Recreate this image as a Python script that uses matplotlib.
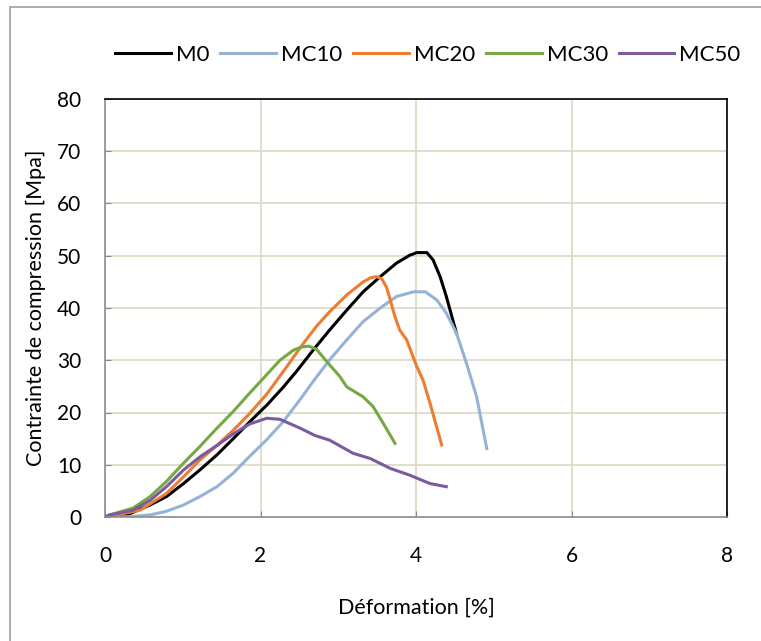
import matplotlib.pyplot as plt
from matplotlib.patches import Rectangle

plt.rcParams["font.family"] = ["Lato", "DejaVu Sans"]

# strain [%] / stress [MPa]
m0_x = [0, 0.15, 0.28, 0.58, 0.79, 1.01, 1.22, 1.44, 1.65, 1.86, 2.08, 2.29, 2.47, 2.68, 2.89,
        3.11, 3.32, 3.54, 3.75, 3.92, 4.01, 4.14, 4.22, 4.31, 4.39, 4.52]
m0_y = [0, 0.1, 0.4, 2.3, 3.9, 6.4, 9.0, 11.9, 15.0, 18.2, 21.4, 24.8, 28.0, 32.0, 35.8,
        39.6, 43.1, 46.0, 48.6, 50.1, 50.6, 50.6, 49.2, 46.0, 42.2, 35.2]

mc10_x = [0, 0.3, 0.58, 0.79, 1.01, 1.22, 1.44, 1.65, 1.86, 2.08, 2.29, 2.51, 2.68, 2.89, 3.11,
          3.32, 3.54, 3.75, 3.97, 4.12, 4.27, 4.39, 4.52, 4.65, 4.78, 4.91]
mc10_y = [0, 0.05, 0.4, 1.1, 2.3, 3.9, 5.8, 8.4, 11.6, 14.8, 18.2, 22.5, 26.0, 30.1, 33.9,
          37.4, 40.0, 42.2, 43.1, 43.1, 41.5, 39.0, 35.2, 29.4, 23.0, 13.1]

mc20_x = [0, 0.15, 0.45, 0.79, 1.01, 1.22, 1.44, 1.65, 1.86, 2.08, 2.3, 2.55, 2.72, 2.89, 3.11,
          3.32, 3.42, 3.49, 3.56, 3.62, 3.67, 3.73, 3.79, 3.88, 4.01, 4.09, 4.18, 4.33]
mc20_y = [0, 0.4, 1.3, 4.5, 7.7, 10.9, 13.7, 16.6, 19.8, 23.5, 28.0, 33.2, 36.5, 39.3, 42.5,
          45.0, 45.8, 46.0, 45.6, 44.0, 41.5, 38.3, 35.8, 33.9, 28.8, 26.2, 21.8, 13.8]

mc30_x = [0, 0.06, 0.36, 0.58, 0.79, 1.01, 1.22, 1.44, 1.65, 1.86, 2.04, 2.25, 2.42, 2.52, 2.62,
          2.72, 2.89, 3.02, 3.11, 3.32, 3.45, 3.58, 3.73]
mc30_y = [0, 0.4, 1.7, 3.9, 6.8, 10.3, 13.5, 17.0, 20.2, 23.7, 26.6, 30.0, 31.9, 32.5, 32.7,
          32.1, 29.1, 26.9, 24.9, 23.0, 21.1, 17.9, 14.1]

mc50_x = [0, 0.06, 0.36, 0.58, 0.79, 1.01, 1.22, 1.44, 1.65, 1.86, 2.08, 2.25, 2.51, 2.7, 2.89,
          3.19, 3.41, 3.67, 3.92, 4.18, 4.39]
mc50_y = [0, 0.4, 1.3, 3.2, 5.8, 9.0, 11.5, 13.7, 15.9, 17.8, 18.9, 18.7, 17.0, 15.6, 14.7,
          12.2, 11.2, 9.3, 8.0, 6.4, 5.8]

series = [
    ("M0", m0_x, m0_y, "#000000"),
    ("MC10", mc10_x, mc10_y, "#95b3d7"),
    ("MC20", mc20_x, mc20_y, "#ed7d31"),
    ("MC30", mc30_x, mc30_y, "#77a843"),
    ("MC50", mc50_x, mc50_y, "#7b5a9f"),
]

fig = plt.figure(figsize=(7.61, 6.41), dpi=100)
ax = fig.add_axes([105 / 761, 1 - 517 / 641, 622 / 761, 418 / 641])

for name, xs, ys, col in series:
    ax.plot(xs, ys, color=col, lw=2.2, label=name, solid_joinstyle="round")

ax.set_xlim(0, 8)
ax.set_ylim(0, 80)
ax.set_xticks([0, 2, 4, 6, 8])
ax.set_yticks(range(0, 81, 10))
ax.grid(True, color="#dcd8c4", lw=1.2)
ax.set_axisbelow(True)
ax.tick_params(direction="in", length=4, color="#888888", labelsize=15)
ax.tick_params(axis="y", pad=17)
ax.tick_params(axis="x", pad=21)
for side in ["left", "bottom"]:
    ax.spines[side].set_color("#8c8c8c")
    ax.spines[side].set_linewidth(1.2)
for side in ["top", "right"]:
    ax.spines[side].set_color("#000000")
    ax.spines[side].set_linewidth(1.2)

ax.set_xlabel("Déformation [%]", fontsize=15.5, labelpad=23)
ax.set_ylabel("Contrainte de compression [Mpa]", fontsize=15.5, labelpad=8)

ax.legend(loc="center", bbox_to_anchor=(428 / 761, 1 - 55 / 641), bbox_transform=fig.transFigure,
          ncol=5, frameon=False, fontsize=16, handlelength=2.5, handletextpad=0.22,
          columnspacing=0.5, borderpad=0)

fig.patches.append(Rectangle((10 / 761, -0.1), 1.2, 1.1 - 7 / 641, transform=fig.transFigure,
                             fill=False, edgecolor="#a0a0a0", lw=1.2))

fig.savefig("out.png", dpi=100)
